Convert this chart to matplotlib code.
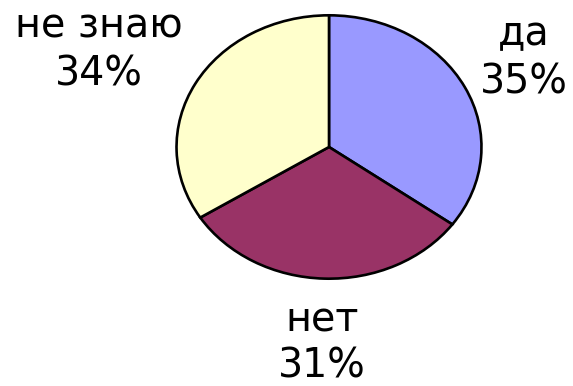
import matplotlib
matplotlib.use('Agg')
import matplotlib.pyplot as plt

# Ответы на вопрос
otvety = ['да', 'нет', 'не знаю']
procenty = [35, 31, 34]
cveta = ['#9999FF', '#993366', '#FFFFCC']

# Позиции подписей (пиксели: x центра, базовая линия названия, базовая линия процента)
pozicii = [(524, 45, 93), (322, 332, 377), (99, 38, 85)]

W, H = 573, 386
fig = plt.figure(figsize=(W / 100, H / 100), dpi=100)
fig.patch.set_facecolor('white')

# Круг немного растянут по горизонтали, как на слайде
ax = fig.add_axes([175 / W, (H - 280) / H, 308 / W, 266 / H])
ax.pie(procenty, colors=cveta, startangle=90, counterclock=False, radius=1,
       wedgeprops={'edgecolor': 'black', 'linewidth': 1.9})
ax.set_aspect('auto')
ax.set_xlim(-1.01, 1.01)
ax.set_ylim(-1.01, 1.01)
ax.axis('off')

for otvet, p, (x, y1, y2) in zip(otvety, procenty, pozicii):
    fig.text(x / W, 1 - y1 / H, otvet, ha='center', va='baseline',
             fontsize=28.5, family='DejaVu Sans')
    fig.text(x / W, 1 - y2 / H, f'{p}%', ha='center', va='baseline',
             fontsize=28.5, family='DejaVu Sans')

fig.savefig('out.png', dpi=100)
